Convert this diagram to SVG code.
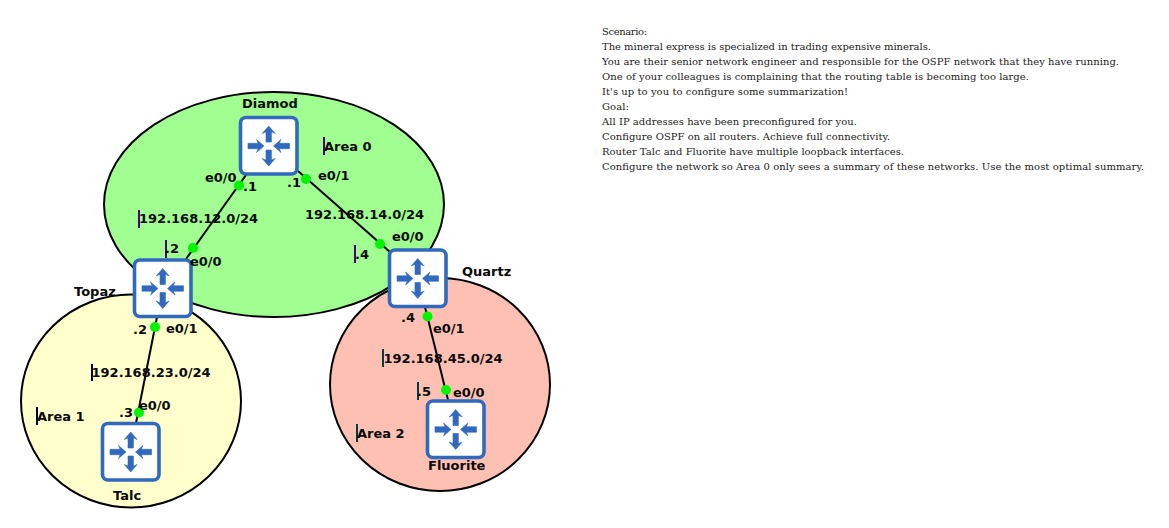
<svg xmlns="http://www.w3.org/2000/svg" width="1169" height="528" viewBox="0 0 1169 528">
<style>
.area{stroke:#000;stroke-width:2}
.link{stroke:#000;stroke-width:2;fill:none}
.dot{fill:#00f500}
.t{font-family:"DejaVu Sans",sans-serif;font-weight:700;font-size:13px;fill:#0a0a0a}
.s{font-family:"DejaVu Serif","Liberation Serif",serif;font-size:10px;fill:#222}
.cur{stroke-width:2;fill:none}
</style>
<defs>
<path id="a" d="M0 0l6.500 7.500q-2.500-1.300-3.800-1.500v10h-5.400v-10q-1.300.2-3.800 1.500z"/>
<g id="r">
<rect x="1.500" y="1.500" width="56.500" height="56.500" rx="5.500" fill="#fff" stroke="#3069bd" stroke-width="3.600"/>
<g fill="#3069bd" stroke="#3069bd" stroke-width=".6" stroke-linejoin="round">
<use href="#a" transform="translate(29.700 10)"/>
<use href="#a" transform="translate(29.700 50) rotate(180)"/>
<use href="#a" transform="translate(25 30) rotate(90)"/>
<use href="#a" transform="translate(34.500 30) rotate(-90)"/>
</g>
</g>
</defs>
<rect width="1169" height="528" fill="#fff"/>
<g id="areas">
<ellipse class="area" cx="274" cy="204.500" rx="170" ry="112.500" fill="#a0ff90"/>
<ellipse class="area" cx="131" cy="401" rx="110" ry="106.500" fill="#ffffcc"/>
<ellipse class="area" cx="440" cy="384.500" rx="110" ry="106.500" fill="#ffc0b4"/>
</g>
<g id="connectors">
<line class="link" x1="246" y1="175" x2="186" y2="259"/>
<line class="link" x1="298" y1="171" x2="390" y2="252"/>
<line class="link" x1="157" y1="317" x2="136" y2="423"/>
<line class="link" x1="425" y1="307" x2="448" y2="400"/>
<circle class="dot" cx="239" cy="185.500" r="5"/>
<circle class="dot" cx="306" cy="179" r="5"/>
<circle class="dot" cx="193" cy="248" r="5"/>
<circle class="dot" cx="380" cy="244" r="5"/>
<circle class="dot" cx="155" cy="327" r="5"/>
<circle class="dot" cx="139" cy="412.500" r="5"/>
<circle class="dot" cx="427.500" cy="316.500" r="5"/>
<circle class="dot" cx="446" cy="390" r="5"/>
</g>
<g id="Diamod"><use href="#r" x="239" y="116"/><text class="t" x="242" y="108">Diamod</text></g>
<g id="Topaz"><use href="#r" x="133" y="258.500"/><text class="t" x="74" y="296">Topaz</text></g>
<g id="Quartz"><use href="#r" x="388" y="248.500"/><text class="t" x="462" y="276">Quartz</text></g>
<g id="Talc"><use href="#r" x="101" y="422"/><text class="t" x="113" y="500">Talc</text></g>
<g id="Fluorite"><use href="#r" x="426" y="399.500"/><text class="t" x="428" y="470">Fluorite</text></g>
<g id="labels">
<path class="cur" stroke="#4b0082" d="M324 137v18M139 210v18M166 240v18M355 245v18"/>
<path class="cur" stroke="#00003c" d="M92 364v17M37 407v18"/>
<path class="cur" stroke="#003c46" d="M383 349v18M418 382v18M357 424v18"/>
<text class="t" x="324" y="151">Area 0</text>
<text class="t" x="37" y="421">Area 1</text>
<text class="t" x="357" y="438">Area 2</text>
<text class="t" x="205" y="182">e0/0</text>
<text class="t" x="243" y="191">.1</text>
<text class="t" x="287" y="187">.1</text>
<text class="t" x="318" y="180">e0/1</text>
<text class="t" x="139" y="223">192.168.12.0/24</text>
<text class="t" x="305" y="219">192.168.14.0/24</text>
<text class="t" x="165" y="253">.2</text>
<text class="t" x="190" y="266">e0/0</text>
<text class="t" x="392" y="241">e0/0</text>
<text class="t" x="355" y="259">.4</text>
<text class="t" x="133" y="334">.2</text>
<text class="t" x="166" y="333">e0/1</text>
<text class="t" x="91.500" y="377">192.168.23.0/24</text>
<text class="t" x="119" y="417">.3</text>
<text class="t" x="139" y="410">e0/0</text>
<text class="t" x="401" y="322">.4</text>
<text class="t" x="433" y="333">e0/1</text>
<text class="t" x="383.500" y="363">192.168.45.0/24</text>
<text class="t" x="417" y="396">.5</text>
<text class="t" x="453" y="397">e0/0</text>
</g>
<g id="scenario">
<text class="s" x="602" y="35" textLength="45">Scenario:</text>
<text class="s" x="602" y="50" textLength="329">The mineral express is specialized in trading expensive minerals.</text>
<text class="s" x="602" y="65" textLength="517">You are their senior network engineer and responsible for the OSPF network that they have running.</text>
<text class="s" x="602" y="80" textLength="427">One of your colleagues is complaining that the routing table is becoming too large.</text>
<text class="s" x="602" y="95" textLength="246">It's up to you to configure some summarization!</text>
<text class="s" x="602" y="110" textLength="27">Goal:</text>
<text class="s" x="602" y="125" textLength="255">All IP addresses have been preconfigured for you.</text>
<text class="s" x="602" y="140" textLength="288">Configure OSPF on all routers. Achieve full connectivity.</text>
<text class="s" x="602" y="155" textLength="302">Router Talc and Fluorite have multiple loopback interfaces.</text>
<text class="s" x="602" y="170" textLength="542">Configure the network so Area 0 only sees a summary of these networks. Use the most optimal summary.</text>
</g>
</svg>
